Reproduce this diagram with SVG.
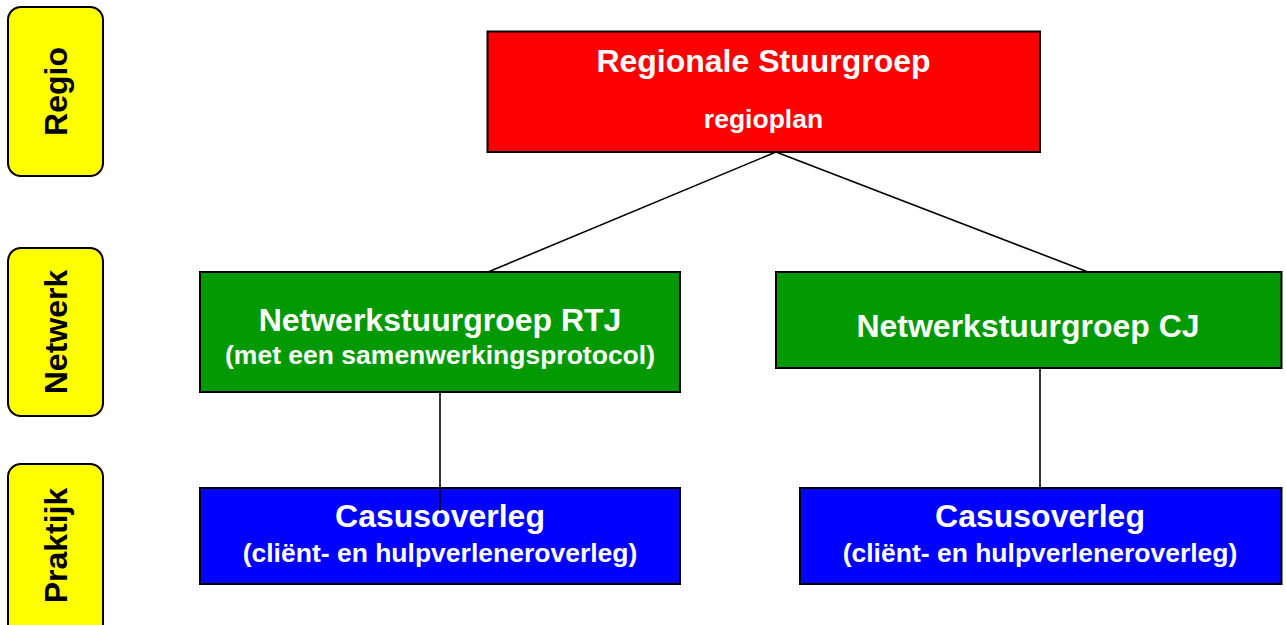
<svg xmlns="http://www.w3.org/2000/svg" width="1286" height="625" viewBox="0 0 1286 625">
<style>
.box{stroke:#000;stroke-width:2}
.lvl{fill:#FFFF00;stroke:#000;stroke-width:2}
.t{font-family:"Liberation Sans",Arial,sans-serif;font-weight:bold;text-anchor:middle}
.w{fill:#fff}
.k{fill:#000}
.big{font-size:32px}
.sub{font-size:26.5px}
.con{stroke:#000;stroke-width:1.6;fill:none}
</style>
<rect width="1286" height="625" fill="#fff"/>
<g id="level-regio">
<rect class="lvl" x="8" y="7" width="95" height="169" rx="13"/>
<text class="t k big" transform="translate(67,91.5) rotate(-90)">Regio</text>
</g>
<g id="level-netwerk">
<rect class="lvl" x="8" y="248" width="95" height="168" rx="13"/>
<text class="t k big" transform="translate(67,332) rotate(-90)">Netwerk</text>
</g>
<g id="level-praktijk">
<rect class="lvl" x="8" y="464" width="95" height="175" rx="13"/>
<text class="t k big" transform="translate(67,545.5) rotate(-90)">Praktijk</text>
</g>
<g id="regionale-stuurgroep">
<rect class="box" x="487.5" y="31.5" width="552.5" height="120.5" fill="#FF0000"/>
<text class="t w big" x="763.5" y="72">Regionale Stuurgroep</text>
<text class="t w sub" x="763.5" y="128">regioplan</text>
</g>
<g id="netwerkstuurgroep-rtj">
<rect class="box" x="200" y="272" width="480" height="120" fill="#009900"/>
<text class="t w big" x="440" y="331">Netwerkstuurgroep RTJ</text>
<text class="t w sub" x="440" y="364">(met een samenwerkingsprotocol)</text>
</g>
<g id="netwerkstuurgroep-cj">
<rect class="box" x="776" y="272" width="505.5" height="96" fill="#009900"/>
<text class="t w big" x="1028" y="337">Netwerkstuurgroep CJ</text>
</g>
<g id="casusoverleg-rtj">
<rect class="box" x="200" y="488" width="480" height="96" fill="#0000FF"/>
<text class="t w big" x="440" y="527">Casusoverleg</text>
<text class="t w sub" x="440" y="562">(cliënt- en hulpverleneroverleg)</text>
</g>
<g id="casusoverleg-cj">
<rect class="box" x="800" y="488" width="481.5" height="96" fill="#0000FF"/>
<text class="t w big" x="1040" y="527">Casusoverleg</text>
<text class="t w sub" x="1040" y="562">(cliënt- en hulpverleneroverleg)</text>
</g>
<g id="connectors">
<line class="con" x1="776" y1="152" x2="488" y2="272"/>
<line class="con" x1="776" y1="152" x2="1088" y2="272"/>
<line class="con" x1="1040" y1="368" x2="1040" y2="488"/>
<line class="con" x1="440" y1="392" x2="440" y2="511"/>
</g>
</svg>
